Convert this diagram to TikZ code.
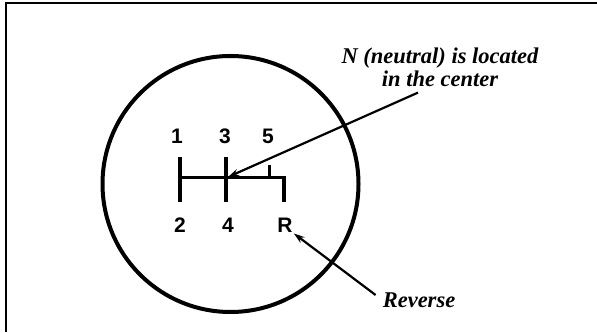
\documentclass[tikz,border=0pt]{standalone}
\usepackage{fontspec}
\setmainfont{Liberation Serif}
\newfontfamily\gearfont{Liberation Sans}
\usetikzlibrary{positioning, arrows.meta}

\begin{document}
\begin{tikzpicture}[x=1pt, y=1pt,
gear/.style={font=\gearfont\bfseries\fontsize{21}{21}\selectfont, inner sep=1pt},
note/.style={font=\bfseries\itshape\fontsize{22.5}{23}\selectfont, align=center, inner sep=2pt},
arrow/.style={-{Stealth[length=11pt,width=7pt]}, line width=2.2pt},
gate/.style={line width=4pt}]
    \useasboundingbox (0,0) rectangle (597,332);
    % frame
    \draw[line width=2.2pt] (6,0) -- (6,329) -- (597,329);
    % knob
    \draw[line width=4pt] (230.5,148) circle (128);
    % shift pattern
    \draw[line width=3pt] (180,154) -- (284,154);
    \draw[gate] (180,175) -- (180,130);
    \draw[gate] (226,175) -- (226,130);
    \draw[gate] (284,155.5) -- (284,130);
    \draw[line width=3pt] (269,167) -- (269,154);
    \coordinate (neutral) at (228,155);
    % gears
    \node[gear] (g1) at (177,196) {1};
    \node[gear] (g3) at (225,196) {3};
    \node[gear] (g5) at (268,196) {5};
    \node[gear] (g2) at (180,107) {2};
    \node[gear] (g4) at (228,107) {4};
    \node[gear] (gR) at (285,107) {R};
    % labels
    \node[note] (nlabel) at (440,265) {N (neutral) is located\\in the center};
    \node[note] (rev) at (419,32) {Reverse};

    \draw[arrow] ([xshift=-22pt,yshift=-4pt]nlabel.south) -- (neutral);
    \draw[arrow] ([xshift=-5pt,yshift=5pt]rev.west) -- (gR.south east);
\end{tikzpicture}
\end{document}
